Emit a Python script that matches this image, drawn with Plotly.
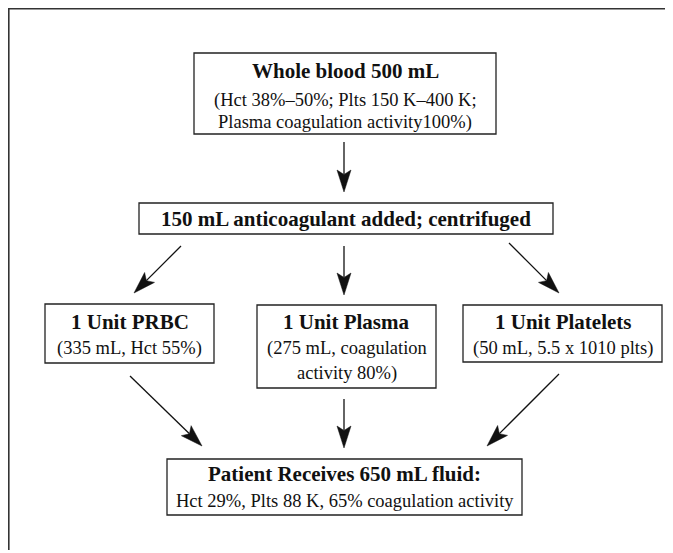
import math
import plotly.graph_objects as go

# ---- content ----
titles = [
    "Whole blood 500 mL",
    "150 mL anticoagulant added; centrifuged",
    "1 Unit PRBC",
    "1 Unit Plasma",
    "1 Unit Platelets",
    "Patient Receives 650 mL fluid:",
]
details = [
    ["(Hct 38%–50%; Plts 150 K–400 K;", "Plasma coagulation activity100%)"],
    [],
    ["(335 mL, Hct 55%)"],
    ["(275 mL, coagulation", "activity 80%)"],
    ["(50 mL, 5.5 x 1010 plts)"],
    ["Hct 29%, Plts 88 K, 65% coagulation activity"],
]
edges = [(0, 1), (1, 2), (1, 3), (1, 4), (2, 5), (3, 5), (4, 5)]

# ---- layout geometry (screen pixel coordinates) ----
W, H = 673, 553
PAGE_MARGIN = 8  # default body margin of the html page
boxes = [  # x0, x1, y0, y1
    (194, 496, 53, 134),
    (139, 553, 203, 234),
    (45, 214, 304, 363),
    (257, 436, 305, 388),
    (463, 662, 305, 362),
    (167, 522, 459, 515),
]
title_y = [71, 219, 322, 322, 322, 474]
detail_y = [[100, 122], [], [348], [348, 373], [348], [501]]
edge_pts = [  # start, tip
    ((344, 142), (344, 192)),
    ((181, 246), (134, 293)),
    ((344, 246), (344, 295)),
    ((509, 243), (559, 293)),
    ((130, 376), (202, 446)),
    ((344, 399), (344, 448)),
    ((559, 374), (487, 446)),
]

FONT = "Liberation Serif, Times New Roman, serif"
INK = "#111111"
HEAD_L, HEAD_W, NOTCH = 22, 7, 4.5

fig = go.Figure()
shapes = []
annotations = []

# outer frame (top and left edges)
shapes.append(dict(type="line", xref="x", yref="y", x0=8, y0=8.8, x1=W, y1=8.8,
                   line=dict(color="#333333", width=1.6)))
shapes.append(dict(type="line", xref="x", yref="y", x0=8.8, y0=8, x1=8.8, y1=550,
                   line=dict(color="#333333", width=1.6)))

for i, (x0, x1, y0, y1) in enumerate(boxes):
    shapes.append(dict(type="rect", xref="x", yref="y", x0=x0, x1=x1, y0=y0, y1=y1,
                       line=dict(color="#222222", width=1.3), fillcolor="white"))
    cx = (x0 + x1) / 2
    annotations.append(dict(x=cx, y=title_y[i], xref="x", yref="y",
                            text="<b>" + titles[i] + "</b>", showarrow=False,
                            xanchor="center", yanchor="middle",
                            font=dict(family=FONT, size=21, color=INK)))
    for txt, ty in zip(details[i], detail_y[i]):
        annotations.append(dict(x=cx, y=ty, xref="x", yref="y", text=txt,
                                showarrow=False, xanchor="center", yanchor="middle",
                                font=dict(family=FONT, size=18.5, color=INK)))

for (s, e), ((sx, sy), (tx, ty)) in zip(edges, edge_pts):
    dx, dy = tx - sx, ty - sy
    ln = math.hypot(dx, dy)
    ux, uy = dx / ln, dy / ln
    px, py = -uy, ux
    bx, by = tx - ux * HEAD_L, ty - uy * HEAD_L
    nx, ny = bx + ux * NOTCH, by + uy * NOTCH
    shapes.append(dict(type="line", xref="x", yref="y", x0=sx, y0=sy, x1=nx, y1=ny,
                       line=dict(color=INK, width=1.3)))
    path = (f"M{tx},{ty} L{bx + px * HEAD_W},{by + py * HEAD_W} "
            f"L{nx},{ny} L{bx - px * HEAD_W},{by - py * HEAD_W} Z")
    shapes.append(dict(type="path", xref="x", yref="y", path=path,
                       fillcolor=INK, line=dict(color=INK, width=0.5)))

fig.update_layout(
    width=W - PAGE_MARGIN, height=H - PAGE_MARGIN,
    margin=dict(l=0, r=0, t=0, b=0),
    paper_bgcolor="white", plot_bgcolor="white",
    xaxis=dict(range=[PAGE_MARGIN, W], visible=False, fixedrange=True),
    yaxis=dict(range=[H, PAGE_MARGIN], visible=False, fixedrange=True),
    shapes=shapes, annotations=annotations, showlegend=False,
)
fig.write_html("out.html")
